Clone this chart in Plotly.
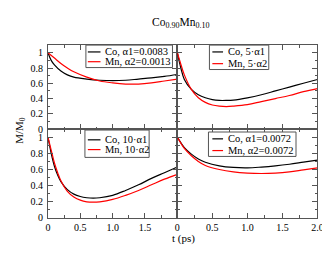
import plotly.graph_objects as go

W, H = 330, 255

# ---- data ----
t_tl_co = [0, 0.05, 0.1, 0.2, 0.3, 0.4, 0.6, 0.8, 1.0, 1.2, 1.4, 1.6, 1.8, 2.0]
m_tl_co = [1.0, 0.9, 0.84, 0.76, 0.71, 0.68, 0.655, 0.64, 0.635, 0.64, 0.655, 0.67, 0.69, 0.715]
t_tl_mn = [0, 0.1, 0.2, 0.3, 0.4, 0.6, 0.8, 1.0, 1.2, 1.4, 1.6, 1.8, 2.0]
m_tl_mn = [1.0, 0.93, 0.86, 0.80, 0.75, 0.68, 0.63, 0.605, 0.59, 0.59, 0.605, 0.63, 0.655]

t_tr = [0, 0.05, 0.1, 0.2, 0.3, 0.4, 0.5, 0.6, 0.7, 0.8, 1.0, 1.2, 1.4, 1.6, 1.8, 2.0]
m_tr_co = [1.0, 0.8, 0.65, 0.52, 0.45, 0.41, 0.385, 0.375, 0.375, 0.38, 0.41, 0.45, 0.5, 0.55, 0.6, 0.65]
m_tr_mn = [1.0, 0.85, 0.71, 0.52, 0.41, 0.35, 0.315, 0.30, 0.295, 0.30, 0.32, 0.36, 0.40, 0.44, 0.49, 0.53]

t_bl = [0, 0.05, 0.1, 0.15, 0.2, 0.3, 0.4, 0.5, 0.6, 0.7, 0.8, 1.0, 1.2, 1.4, 1.6, 1.8, 2.0]
m_bl_co = [1.0, 0.8, 0.64, 0.53, 0.45, 0.35, 0.295, 0.265, 0.25, 0.245, 0.25, 0.28, 0.34, 0.41, 0.49, 0.56, 0.63]
m_bl_mn = [1.0, 0.84, 0.68, 0.56, 0.46, 0.33, 0.26, 0.22, 0.20, 0.195, 0.20, 0.23, 0.28, 0.34, 0.41, 0.48, 0.54]

t_br = [0, 0.1, 0.2, 0.3, 0.4, 0.6, 0.8, 1.0, 1.2, 1.4, 1.6, 1.8, 2.0]
m_br_co = [1.0, 0.87, 0.79, 0.73, 0.69, 0.645, 0.625, 0.62, 0.63, 0.645, 0.665, 0.69, 0.715]
m_br_mn = [1.0, 0.86, 0.77, 0.70, 0.65, 0.60, 0.57, 0.555, 0.55, 0.555, 0.57, 0.595, 0.62]

legend_tl = ["Co, α1=0.0083", "Mn, α2=0.0013"]
legend_tr = ["Co, 5·α1", "Mn, 5·α2"]
legend_bl = ["Co, 10·α1", "Mn, 10·α2"]
legend_br = ["Co, α1=0.0072", "Mn, α2=0.0072"]

x_tickvals_left = [0, 0.5, 1.0, 1.5]
x_ticktext_left = ["0", "0.5", "1.0", "1.5"]
x_tickvals_right = [0, 0.5, 1.0, 1.5, 2.0]
x_ticktext_right = ["0", "0.5", "1.0", "1.5", "2.0"]
y_tickvals = [0, 0.2, 0.4, 0.6, 0.8, 1.0]
y_ticktext = ["0", "0.2", "0.4", "0.6", "0.8", "1"]

FONT = "Liberation Serif"
CO_COLOR = "#000000"
MN_COLOR = "#ff0000"


def px(x):
    return x / W


def py(y):
    return 1 - y / H


fig = go.Figure()

panels = [
    ("x", "y", t_tl_co, m_tl_co, t_tl_mn, m_tl_mn, legend_tl),
    ("x2", "y2", t_tr, m_tr_co, t_tr, m_tr_mn, legend_tr),
    ("x3", "y3", t_bl, m_bl_co, t_bl, m_bl_mn, legend_bl),
    ("x4", "y4", t_br, m_br_co, t_br, m_br_mn, legend_br),
]
for xa, ya, tc, mc, tm, mm, names in panels:
    fig.add_trace(go.Scatter(x=tc, y=mc, xaxis=xa, yaxis=ya, mode="lines",
                             line=dict(color=CO_COLOR, width=1.2, shape="spline"),
                             name=names[0], showlegend=False))
    fig.add_trace(go.Scatter(x=tm, y=mm, xaxis=xa, yaxis=ya, mode="lines",
                             line=dict(color=MN_COLOR, width=1.2, shape="spline"),
                             name=names[1], showlegend=False))

# domains (pixel based)
xl = [px(38), px(171)]
xr = [px(171), px(315)]
yt = [py(124), py(38)]
yb = [py(215), py(124)]

LINEC = "#555555"


def xaxis(domain, anchor, labels, vals=None, text=None):
    d = dict(domain=domain, anchor=anchor, range=[0, 2], showline=True, mirror="ticks",
             linecolor=LINEC, linewidth=1, ticks="inside", ticklen=5, tickcolor=LINEC,
             tickvals=x_tickvals_right, showgrid=False, zeroline=False,
             minor=dict(ticks="inside", ticklen=2.5, dtick=0.25, tickcolor=LINEC, showgrid=False),
             ticklabelstandoff=0,
             tickfont=dict(family=FONT, size=10, color="#000"))
    if labels:
        d["tickvals"] = vals
        d["ticktext"] = text
        d["showticklabels"] = True
    else:
        d["showticklabels"] = False
    return d


def yaxis(domain, anchor, labels):
    d = dict(domain=domain, anchor=anchor, range=[0, 1.1], showline=True, mirror="ticks",
             linecolor=LINEC, linewidth=1, ticks="inside", ticklen=5, tickcolor=LINEC,
             tickvals=y_tickvals, ticktext=y_ticktext, showgrid=False, zeroline=False,
             minor=dict(ticks="inside", ticklen=2.5, dtick=0.1, tickcolor=LINEC, showgrid=False),
             showticklabels=labels, ticklabelstandoff=2,
             tickfont=dict(family=FONT, size=10, color="#000"))
    return d


fig.update_layout(
    xaxis=xaxis(xl, "y", False),
    yaxis=yaxis(yt, "x", True),
    xaxis2=xaxis(xr, "y2", False),
    yaxis2=yaxis(yt, "x2", False),
    xaxis3=xaxis(xl, "y3", True, x_tickvals_left, x_ticktext_left),
    yaxis3=yaxis(yb, "x3", True),
    xaxis4=xaxis(xr, "y4", True, x_tickvals_right, x_ticktext_right),
    yaxis4=yaxis(yb, "x4", False),
)

shapes = []
annotations = []

# custom legend boxes: (box x0, y0, x1, y1, line x0, x1, row y's)
legend_geom = [
    (legend_tl, 77, 38, 166, 61, 79, 92, [45, 55]),
    (legend_tr, 204, 38, 265, 63, 207, 218, [45, 57]),
    (legend_bl, 76, 125, 142, 153, 79, 92, [135, 145]),
    (legend_br, 203, 127, 293, 152, 207, 218, [134, 146]),
]
for names, bx0, by0, bx1, by1, lx0, lx1, rows in legend_geom:
    shapes.append(dict(type="rect", xref="paper", yref="paper",
                       x0=px(bx0), x1=px(bx1), y0=py(by1), y1=py(by0),
                       line=dict(color=LINEC, width=1), fillcolor="white", layer="above"))
    for name, ry, col in zip(names, rows, [CO_COLOR, MN_COLOR]):
        shapes.append(dict(type="line", xref="paper", yref="paper",
                           x0=px(lx0), x1=px(lx1), y0=py(ry), y1=py(ry),
                           line=dict(color=col, width=1.2), layer="above"))
        annotations.append(dict(xref="paper", yref="paper", x=px(lx1 + 3), y=py(ry),
                                xanchor="left", yanchor="middle", showarrow=False,
                                text=name, font=dict(family=FONT, size=10.5, color="#000")))

annotations.append(dict(xref="paper", yref="paper", x=px(175), y=py(15),
                        xanchor="center", yanchor="middle", showarrow=False,
                        text="Co<sub>0.90</sub>Mn<sub>0.10</sub>",
                        font=dict(family=FONT, size=11.5, color="#000")))
annotations.append(dict(xref="paper", yref="paper", x=px(9), y=py(125),
                        xanchor="center", yanchor="middle", showarrow=False, textangle=-90,
                        text="M/M<sub>0</sub>",
                        font=dict(family=FONT, size=11, color="#000")))
annotations.append(dict(xref="paper", yref="paper", x=px(177), y=py(236),
                        xanchor="center", yanchor="middle", showarrow=False,
                        text="t (ps)",
                        font=dict(family=FONT, size=11, color="#000")))

fig.update_layout(
    width=W, height=H, margin=dict(l=0, r=0, t=0, b=0),
    paper_bgcolor="white", plot_bgcolor="white",
    shapes=shapes, annotations=annotations, showlegend=False,
)

fig.write_html("out.html")
